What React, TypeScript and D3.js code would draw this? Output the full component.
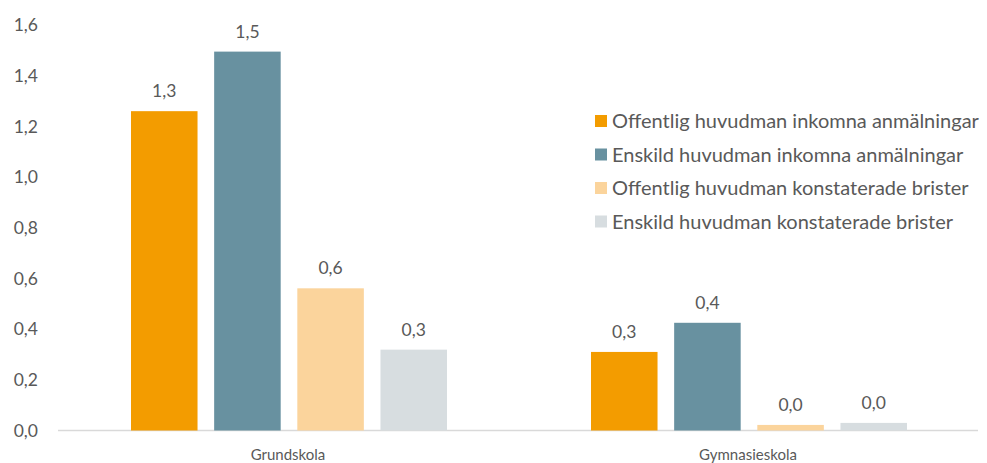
import { useEffect } from 'react'
import * as d3 from 'd3'

const categories = ['Grundskola', 'Gymnasieskola']
const seriesNames = [
  'Offentlig huvudman inkomna anmälningar',
  'Enskild huvudman inkomna anmälningar',
  'Offentlig huvudman konstaterade brister',
  'Enskild huvudman konstaterade brister',
]
const seriesColors = ['#f39c00', '#6891a0', '#fbd49c', '#d7dde0']
const offentligInkomna = [1.26, 0.31]
const enskildInkomna = [1.495, 0.425]
const offentligBrister = [0.561, 0.022]
const enskildBrister = [0.319, 0.03]
const yTicks = [0, 0.2, 0.4, 0.6, 0.8, 1.0, 1.2, 1.4, 1.6]

const seriesValues = [offentligInkomna, enskildInkomna, offentligBrister, enskildBrister]

const W = 987
const H = 463
const FONT = 'Lato, "Open Sans", sans-serif'
const TEXT = '#595959'
const fmt = (v: number) => v.toFixed(1).replace('.', ',')

export default function App() {
  useEffect(() => {
    document.body.style.margin = '0'
  }, [])

  const x0 = d3.scaleBand().domain(categories).range([58, 978]).paddingInner(0).paddingOuter(0)
  const x1 = d3.scaleBand().domain(seriesNames).range([73, 460 - 71]).paddingInner(0.2).paddingOuter(0)
  const y = d3.scaleLinear().domain([0, 1.6]).range([430.5, 25])

  return (
    <svg width={W} height={H} style={{ display: 'block', background: '#fff' }} fontFamily={FONT}>
      {yTicks.map(t => (
        <text key={t} x={38} y={y(t)} dy="0.35em" textAnchor="end" fontSize={17.5} fill={TEXT}>
          {fmt(t)}
        </text>
      ))}
      <line x1={58} x2={978} y1={y(0)} y2={y(0)} stroke="#d9d9d9" strokeWidth={1.5} />
      {categories.map((c, ci) => (
        <g key={c} transform={`translate(${x0(c)},0)`}>
          {seriesNames.map((s, si) => {
            const v = seriesValues[si][ci]
            const bx = x1(s) || 0
            return (
              <g key={s}>
                <rect x={bx} y={y(v)} width={x1.bandwidth()} height={y(0) - y(v)} fill={seriesColors[si]} />
                <text x={bx + x1.bandwidth() / 2} y={y(v) - 20} dy="0.35em" textAnchor="middle" fontSize={17.5} fill={TEXT}>
                  {fmt(v)}
                </text>
              </g>
            )
          })}
          <text x={x0.bandwidth() / 2} y={455} dy="0.35em" textAnchor="middle" fontSize={15} fill={TEXT}>
            {c}
          </text>
        </g>
      ))}
      {seriesNames.map((s, i) => (
        <g key={s} transform={`translate(595,${121 + i * 33.5})`}>
          <rect x={0} y={-6} width={12} height={12} fill={seriesColors[i]} />
          <text x={17} y={0} dy="0.35em" fontSize={20} fill={TEXT}>{s}</text>
        </g>
      ))}
    </svg>
  )
}
